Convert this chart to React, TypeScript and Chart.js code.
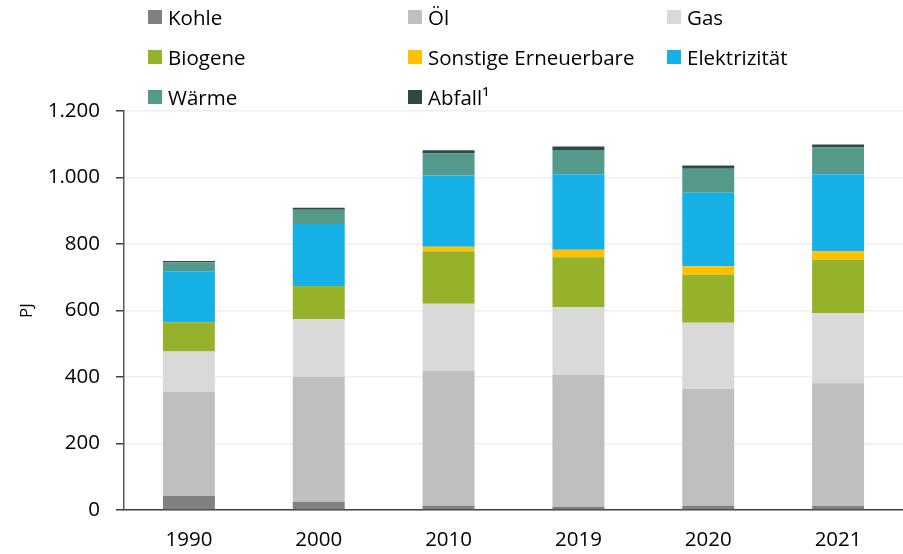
import React, { useEffect, useRef } from "react";
import { Chart, registerables } from "chart.js";

Chart.register(...registerables);

const categories = ["1990", "2000", "2010", "2019", "2020", "2021"];
const seriesNames = ["Kohle", "Öl", "Gas", "Biogene", "Sonstige Erneuerbare", "Elektrizität", "Wärme", "Abfall¹"];
const seriesColors = ["#808080", "#bfbfbf", "#d9d9d9", "#96b22a", "#ffc000", "#14b0e6", "#55998a", "#2e4a47"];
const kohle = [42, 25, 13, 10, 13, 12];
const oel = [313, 376, 405, 396, 351, 369];
const gas = [122, 173, 202, 204, 199, 211];
const biogene = [88, 100, 158, 150, 145, 161];
const sonstige = [0, 0, 14, 23, 25, 25];
const elektrizitaet = [153, 186, 214, 227, 221, 232];
const waerme = [27, 43, 66, 73, 72, 80];
const abfall = [4, 6, 10, 10, 10, 9];
const seriesValues = [kohle, oel, gas, biogene, sonstige, elektrizitaet, waerme, abfall];
const yTicks = [0, 200, 400, 600, 800, 1000, 1200];
const yTitle = "PJ";

const FONT = "'Open Sans', sans-serif";
const FS = 20.5;

function fmt(v: number): string {
  const s = String(Math.round(v));
  return s.replace(/\B(?=(\d{3})+(?!\d))/g, ".");
}

const legendCols = [148, 408, 667];
const legendRows = [17, 57, 97];

export default function App() {
  const ref = useRef<HTMLCanvasElement | null>(null);
  useEffect(() => {
    if (!ref.current) return;
    const chart = new Chart(ref.current, {
      type: "bar",
      data: {
        labels: categories,
        datasets: seriesNames.map((n, i) => ({
          label: n,
          data: seriesValues[i],
          backgroundColor: seriesColors[i],
          borderWidth: 0,
          barPercentage: 0.4,
          categoryPercentage: 1,
        })),
      },
      options: {
        animation: false,
        responsive: false,
        maintainAspectRatio: false,
        layout: { padding: { top: 111, left: 0, right: 0, bottom: 0 } },
        plugins: { legend: { display: false }, tooltip: { enabled: false } },
        scales: {
          x: {
            stacked: true,
            grid: { display: false, drawTicks: false },
            border: { display: true, color: "#404040", width: 1.5 },
            ticks: { color: "#000", font: { family: FONT, size: FS }, padding: 18 },
            afterFit: (s: any) => { s.height = 44; },
          },
          y: {
            stacked: true,
            min: 0,
            max: 1200,
            afterBuildTicks: (s: any) => { s.ticks = yTicks.map((v) => ({ value: v })); },
            grid: { color: "#eeeeee", lineWidth: 1.5, tickColor: "#404040", tickLength: 8, drawTicks: true },
            border: { display: true, color: "#595959", width: 1.5 },
            ticks: {
              color: "#000",
              font: { family: FONT, size: FS },
              padding: 16,
              callback: (v: any) => fmt(Number(v)),
            },
            title: { display: true, text: yTitle, color: "#000", font: { family: FONT, size: 17 }, padding: { top: 17, bottom: 0 } },
            afterFit: (s: any) => { s.width = 124; },
          },
        },
      },
    });
    return () => chart.destroy();
  }, []);

  return (
    <div style={{ position: "absolute", left: 0, top: 0, width: 903, height: 554, background: "#fff" }}>
      <canvas ref={ref} width={903} height={554} style={{ position: "absolute", left: 0, top: 0 }} />
      {seriesNames.map((n, i) => (
        <div
          key={n}
          style={{
            position: "absolute",
            left: legendCols[i % 3],
            top: legendRows[Math.floor(i / 3)] - 14,
            height: 28,
            display: "flex",
            alignItems: "center",
            fontFamily: FONT,
            fontSize: FS,
            color: "#000",
            whiteSpace: "nowrap",
          }}
        >
          <span style={{ display: "inline-block", width: 14, height: 14, background: seriesColors[i], marginRight: 6 }} />
          <span>{n}</span>
        </div>
      ))}
    </div>
  );
}
